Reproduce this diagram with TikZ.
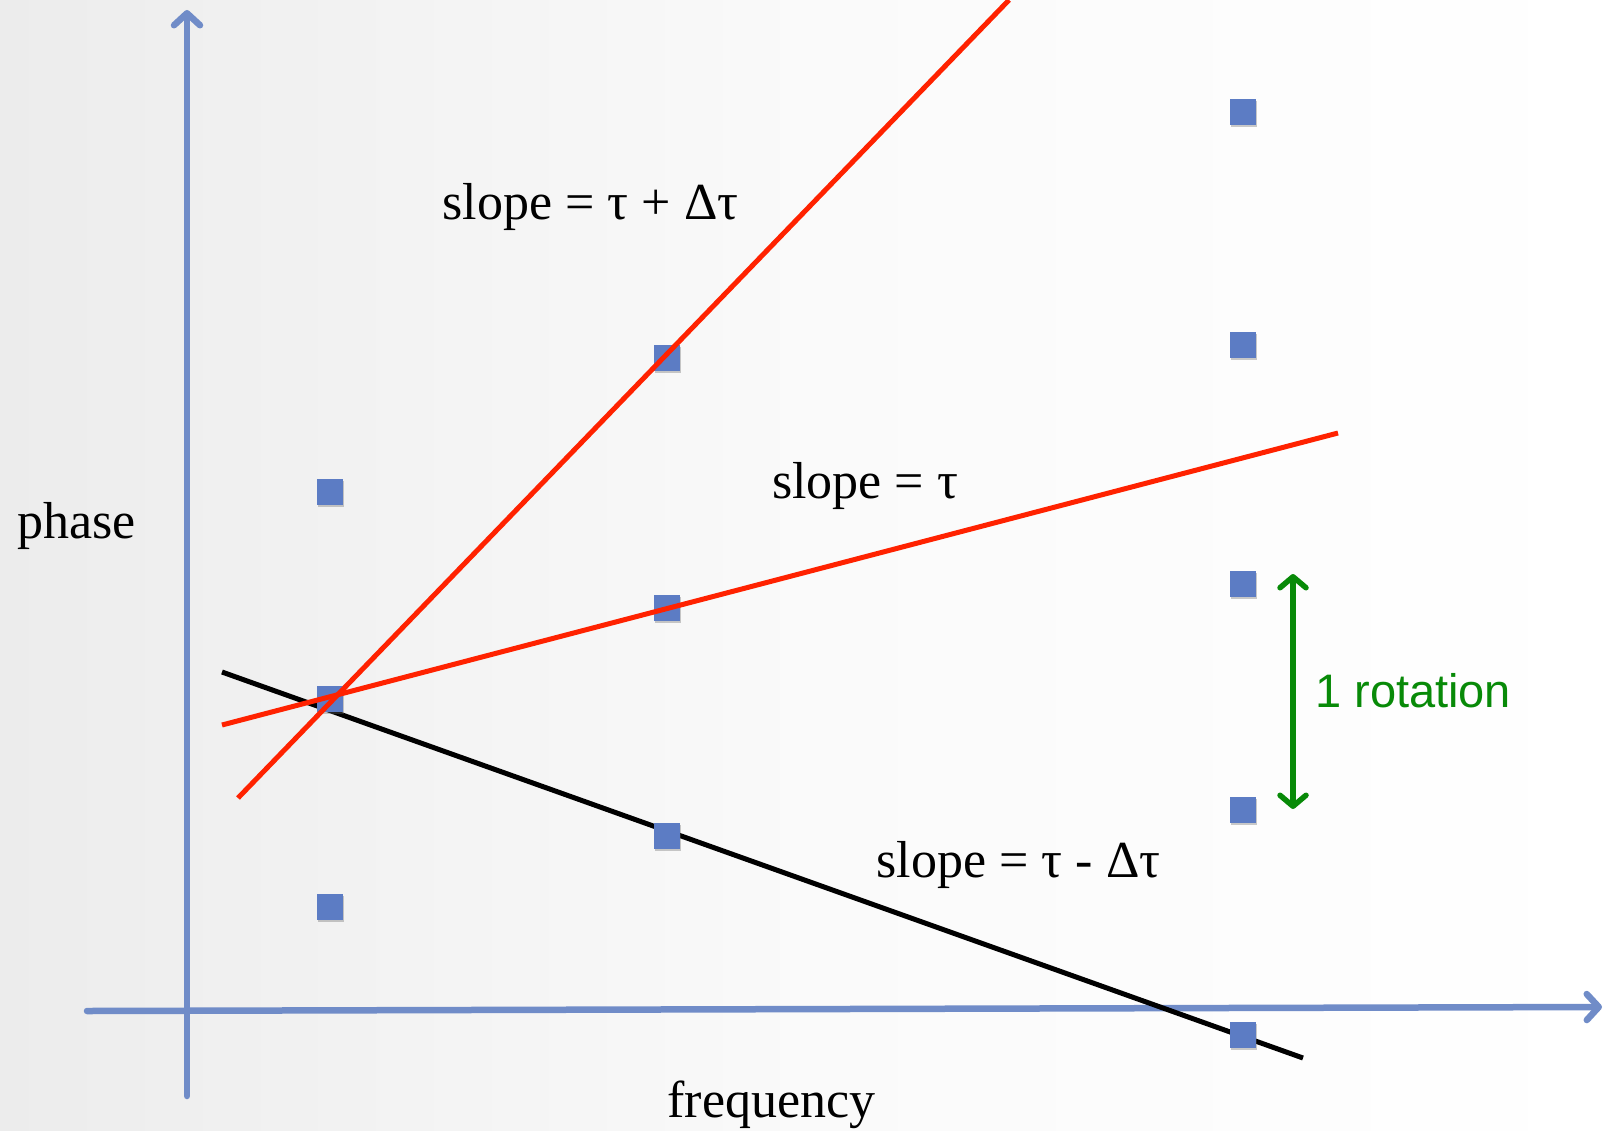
\documentclass[tikz,border=0pt]{standalone}
\usepackage{fontspec}
\setmainfont{Liberation Serif}
\newfontfamily\sansf{Liberation Sans}
\usetikzlibrary{arrows.meta,shadows}
\definecolor{axisblue}{RGB}{112,140,200}
\definecolor{sqblue}{RGB}{92,124,196}
\definecolor{lred}{RGB}{255,34,0}
\definecolor{rotgreen}{RGB}{8,138,8}
\definecolor{bggray}{RGB}{236,236,236}
\tikzset{
  axisline/.style={draw=axisblue,line width=6.5pt,line cap=round,
    -{Straight Barb[length=12pt,width=26pt,line cap=round,line join=round]}},
  pt/.style={fill=sqblue,minimum size=26pt,inner sep=0pt,
    drop shadow={shadow xshift=1pt,shadow yshift=-2pt,opacity=0.35,fill=black!60}},
  fitline/.style={line width=5pt},
  lbl/.style={font=\fontsize{52}{60}\selectfont,inner sep=0pt,anchor=base},
  rotarrow/.style={draw=rotgreen,line width=5.5pt,
    {Straight Barb[length=11pt,width=26pt,line cap=round,line join=round]}-{Straight Barb[length=11pt,width=26pt,line cap=round,line join=round]}}
}
\begin{document}
\begin{tikzpicture}[x=1pt,y=-1pt]
\useasboundingbox (0,0) rectangle (1606,1130);
\shade[left color=bggray,right color=white,middle color=white!98!black] (0,0) rectangle (1606,1130);
% axes
\coordinate (yb) at (187,1096);
\coordinate (yt) at (187,10);
\coordinate (xl) at (87,1011);
\coordinate (xr) at (1602,1007);
\draw[axisline] (yb) -- (yt);
\draw[axisline] (xl) -- (xr);
% black fit line
\coordinate (b1) at (222,672);
\coordinate (b2) at (1303,1058);
\draw[fitline,black] (b1) -- (b2);
% data points
\node[pt] (p11) at (330,492) {};
\node[pt] (p12) at (330,699) {};
\node[pt] (p13) at (330,907) {};
\node[pt] (p21) at (667,358) {};
\node[pt] (p22) at (667,608) {};
\node[pt] (p23) at (667,836) {};
\node[pt] (p31) at (1243,112) {};
\node[pt] (p32) at (1243,345) {};
\node[pt] (p33) at (1243,584) {};
\node[pt] (p34) at (1243,810) {};
\node[pt] (p35) at (1243,1035) {};
% red fit lines
\coordinate (r1a) at (238,798);
\coordinate (r1b) at (1009,0);
\coordinate (r2a) at (222,725);
\coordinate (r2b) at (1338,433);
\draw[fitline,lred] (r1a) -- (r1b);
\draw[fitline,lred] (r2a) -- (r2b);
% rotation arrow
\coordinate (ga) at (1293,574);
\coordinate (gb) at (1293,809);
\draw[rotarrow] (ga) -- (gb);
\node[anchor=base west,inner sep=0pt,text=rotgreen,font=\sansf\fontsize{47}{56}\selectfont] (rot) at (1315,707) {1 rotation};
% labels
\node[lbl] (phase) at (76.5,538) {phase};
\node[lbl] (sp) at (590.5,219) {slope = τ + Δτ};
\node[lbl] (s0) at (865,498) {slope = τ};
\node[lbl] (sm) at (1018.5,877) {slope = τ - Δτ};
\node[lbl] (freq) at (771.5,1117) {frequency};
\end{tikzpicture}
\end{document}
